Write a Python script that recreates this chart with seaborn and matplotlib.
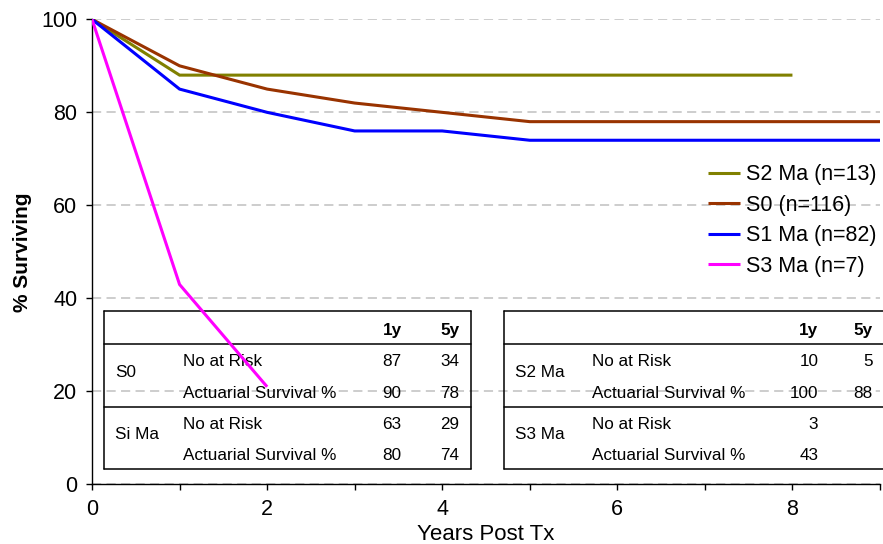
import numpy as np
import pandas as pd
import matplotlib
matplotlib.use("Agg")
import matplotlib.pyplot as plt
from matplotlib.ticker import MultipleLocator
import seaborn as sns

# Actuarial survival curves (% surviving by year post transplant)
s2_years = [0, 1, 2, 3, 4, 5, 6, 7, 8]
s2_surv = [100, 88, 88, 88, 88, 88, 88, 88, 88]
s0_years = [0, 1, 2, 3, 4, 5, 6, 7, 8, 9]
s0_surv = [100, 90, 85, 82, 80, 78, 78, 78, 78, 78]
s1_years = [0, 1, 2, 3, 4, 5, 6, 7, 8, 9]
s1_surv = [100, 85, 80, 76, 76, 74, 74, 74, 74, 74]
s3_years = [0, 1, 2]
s3_surv = [100, 43, 21]

series_names = ["S2 Ma (n=13)", "S0 (n=116)", "S1 Ma (n=82)", "S3 Ma (n=7)"]
series_colors = ["#808000", "#993300", "#0000FF", "#FF00FF"]

# Summary tables
row_labels = ["No at Risk", "Actuarial Survival %"]
col_labels = ["1y", "5y"]
left_groups = ["S0", "Si Ma"]
left_1y = [[87, 90], [63, 80]]
left_5y = [[34, 78], [29, 74]]
right_groups = ["S2 Ma", "S3 Ma"]
right_1y = [[10, 100], [3, 43]]
right_5y = [[5, 88], [None, None]]

frames = []
for name, yrs, vals in zip(series_names,
                           [s2_years, s0_years, s1_years, s3_years],
                           [s2_surv, s0_surv, s1_surv, s3_surv]):
    frames.append(pd.DataFrame({"Years": yrs, "Surviving": vals, "Group": name}))
df = pd.concat(frames, ignore_index=True)

sns.set_theme(style="white")
plt.rcParams["font.family"] = ["Liberation Sans", "DejaVu Sans"]
plt.rcParams["text.color"] = "black"

fig = plt.figure(figsize=(8.83, 5.44), dpi=100)
ax = fig.add_axes([0.1042, 0.1094, 0.8924, 0.8551])

ax.set_xlim(0, 9)
ax.set_ylim(0, 100)
ax.set_yticks([0, 20, 40, 60, 80, 100])
ax.xaxis.set_major_locator(MultipleLocator(2))
ax.xaxis.set_minor_locator(MultipleLocator(1))

ax.yaxis.grid(True, color="#C0C0C0", linestyle=(0, (6, 3.5)), linewidth=1.1, zorder=0)
ax.xaxis.grid(False)
ax.set_axisbelow(True)

sns.lineplot(data=df, x="Years", y="Surviving", hue="Group",
             hue_order=series_names, palette=dict(zip(series_names, series_colors)),
             linewidth=2.2, ax=ax, legend=True, zorder=3)
for ln in ax.lines:
    ln.set_solid_joinstyle("miter")
    ln.set_solid_capstyle("butt")

for side in ["top", "right"]:
    ax.spines[side].set_visible(False)
for side in ["left", "bottom"]:
    ax.spines[side].set_color("black")
    ax.spines[side].set_linewidth(1.0)

ax.tick_params(axis="both", which="both", direction="out", length=4.5, width=1.0,
               color="black", labelsize=15.5, labelcolor="black", pad=6,
               bottom=True, left=True)
ax.tick_params(axis="x", which="minor", length=4.5)

ax.set_xlabel("Years Post Tx", fontsize=16, color="black")
ax.set_ylabel("% Surviving", fontsize=15, fontweight="bold", color="black")
ax.xaxis.set_label_coords(0.5, -0.085)
ax.yaxis.set_label_coords(-0.076, 0.5)

handles, labels = ax.get_legend_handles_labels()
leg = ax.legend(handles, labels, loc="upper left", bbox_to_anchor=(0.782, 0.688),
                frameon=False, fontsize=15.5, handlelength=1.47, handletextpad=0.3,
                labelspacing=0.44, borderpad=0, borderaxespad=0, labelcolor="black")
for h in leg.get_lines():
    h.set_linewidth(2.2)


def draw_table(x0, x1, groups, v1, v5, x_group, x_row, x_c1, x_c5, closed=True):
    top, sep1, sep2, bottom = 37.3, 30.3, 16.7, 3.4
    kw = dict(color="black", linewidth=1.1, zorder=2, clip_on=False)
    ax.plot([x0, x1], [top, top], **kw)
    ax.plot([x0, x1], [sep1, sep1], **kw)
    ax.plot([x0, x1], [sep2, sep2], **kw)
    ax.plot([x0, x1], [bottom, bottom], **kw)
    ax.plot([x0, x0], [bottom, top], **kw)
    if closed:
        ax.plot([x1, x1], [bottom, top], **kw)
    tkw = dict(fontsize=12.3, color="black", va="baseline", zorder=2)
    ax.text(x_c1, 32.1, col_labels[0], ha="right", fontweight="bold", **tkw)
    ax.text(x_c5, 32.1, col_labels[1], ha="right", fontweight="bold", **tkw)
    row_y = [[25.4, 18.5], [11.9, 5.27]]
    group_y = [23.0, 9.7]
    for g in range(2):
        ax.text(x_group, group_y[g], groups[g], ha="left", **tkw)
        for r in range(2):
            ax.text(x_row, row_y[g][r], row_labels[r], ha="left", **tkw)
            if v1[g][r] is not None:
                ax.text(x_c1, row_y[g][r], str(v1[g][r]), ha="right", **tkw)
            if v5[g][r] is not None:
                ax.text(x_c5, row_y[g][r], str(v5[g][r]), ha="right", **tkw)


draw_table(0.137, 4.33, left_groups, left_1y, left_5y, 0.263, 1.043, 3.537, 4.195)
draw_table(4.705, 9.3, right_groups, right_1y, right_5y, 4.831, 5.707, 8.295, 8.916,
           closed=False)

fig.savefig("out.png", dpi=100)
